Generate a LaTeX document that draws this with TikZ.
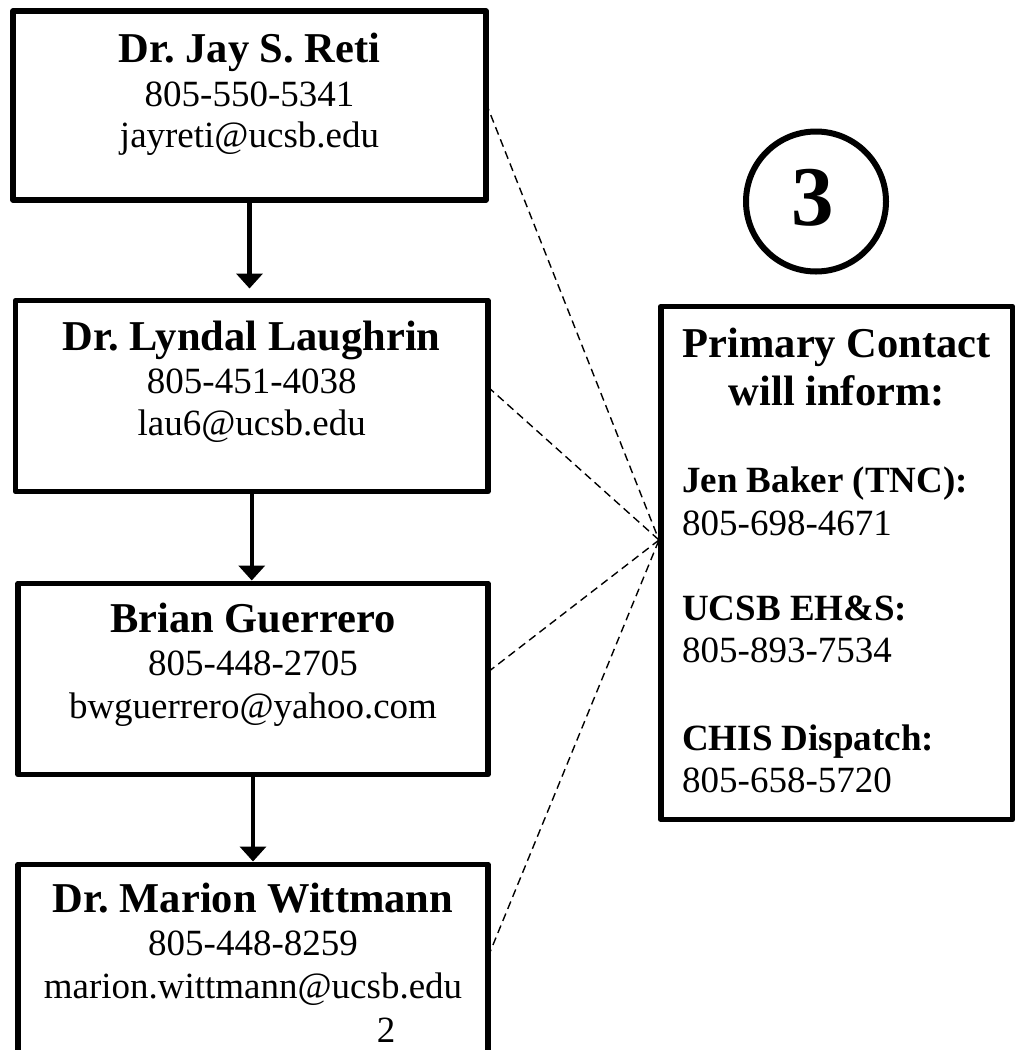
\documentclass[tikz,border=0pt]{standalone}
\usepackage{fontspec}
\setmainfont{Liberation Serif}
\usetikzlibrary{arrows.meta}
\frenchspacing
\begin{document}
\begin{tikzpicture}[x=1pt,y=-1pt,
  box/.style={draw, line width=5.5pt, inner sep=0pt, outer sep=0pt, rectangle, line join=round},
  ttl/.style={anchor=base, inner sep=0pt, font=\fontsize{42.5}{50}\selectfont\bfseries},
  txt/.style={anchor=base, inner sep=0pt, font=\fontsize{37}{44}\selectfont},
  ttll/.style={anchor=base west, inner sep=0pt, font=\fontsize{37}{44}\selectfont\bfseries},
  txtl/.style={anchor=base west, inner sep=0pt, font=\fontsize{37}{44}\selectfont},
  flow/.style={line width=4.5pt, -{Triangle[width=26pt,length=15pt]}},
  link/.style={line width=1.4pt, dash pattern=on 8pt off 5pt}]
\useasboundingbox (0,0) rectangle (1015,1050);
\clip (0,0) rectangle (1015,1050);
\fill[white] (0,0) rectangle (1015,1050);

% left chain of boxes
\node[box, minimum width=473pt, minimum height=189pt] (b1) at (249.5,105.5) {};
\node[box, minimum width=472.5pt, minimum height=191pt] (b2) at (251.75,396) {};
\node[box, minimum width=470pt, minimum height=191pt] (b3) at (253,679) {};
\node[box, minimum width=470pt, minimum height=215.5pt] (b4) at (253,972.25) {};

\node[ttl] (b1name) at (249.5,62) {Dr. Jay S. Reti};
\node[txt] (b1tel) at (249.5,106.5) {805-550-5341};
\node[txt] (b1mail) at (249.5,147) {jayreti@ucsb.edu};

\node[ttl] (b2name) at (251.75,350) {Dr. Lyndal Laughrin};
\node[txt] (b2tel) at (251.75,393.3) {805-451-4038};
\node[txt] (b2mail) at (251.75,435.7) {lau6@ucsb.edu};

\node[ttl] (b3name) at (253,632.3) {Brian Guerrero};
\node[txt] (b3tel) at (253,675.7) {805-448-2705};
\node[txt] (b3mail) at (253,718.3) {bwguerrero@yahoo.com};

\node[ttl] (b4name) at (253,912.3) {Dr. Marion Wittmann};
\node[txt] (b4tel) at (253,955.7) {805-448-8259};
\node[txt] (b4mail) at (253,998.3) {marion.wittmann@ucsb.edu};
\node[txt] (pagenum) at (386,1042) {2};

% arrows
\draw[flow, shorten >=12pt] (b1.south) -- (b1.south |- b2.north);
\draw[flow, shorten >=3pt] (b2.south) -- (b2.south |- b3.north);
\draw[flow, shorten >=3pt] (b3.south) -- (b3.south |- b4.north);

% badge
\node[draw, circle, line width=6pt, minimum size=140pt, inner sep=0pt] (badge) at (816,201.5) {};
\node[anchor=base, inner sep=0pt, font=\fontsize{85}{90}\selectfont\bfseries] (badgenum) at (813,225) {3};

% right box
\node[box, minimum width=351.5pt, minimum height=513.4pt] (rb) at (836.75,563) {};
\node[ttl] (rbt1) at (836.75,357) {Primary Contact};
\node[ttl] (rbt2) at (836.75,405) {will inform:};
\node[ttll] (rbj) at (682,492) {Jen Baker (TNC):};
\node[txtl] (rbjt) at (682,535) {805-698-4671};
\node[ttll] (rbu) at (682,620) {UCSB EH\&S:};
\node[txtl] (rbut) at (682,662) {805-893-7534};
\node[ttll] (rbc) at (682,750) {CHIS Dispatch:};
\node[txtl] (rbct) at (682,792) {805-658-5720};

% dashed connectors
\coordinate (hub) at (659,540);
\draw[link] ([yshift=2.5pt]b1.east) -- (hub);
\draw[link] ([yshift=9pt]b2.east) -- (hub);
\draw[link] ([yshift=7pt]b3.east) -- (hub);
\draw[link] ([yshift=15.25pt]b4.east) -- (hub);
\end{tikzpicture}
\end{document}
